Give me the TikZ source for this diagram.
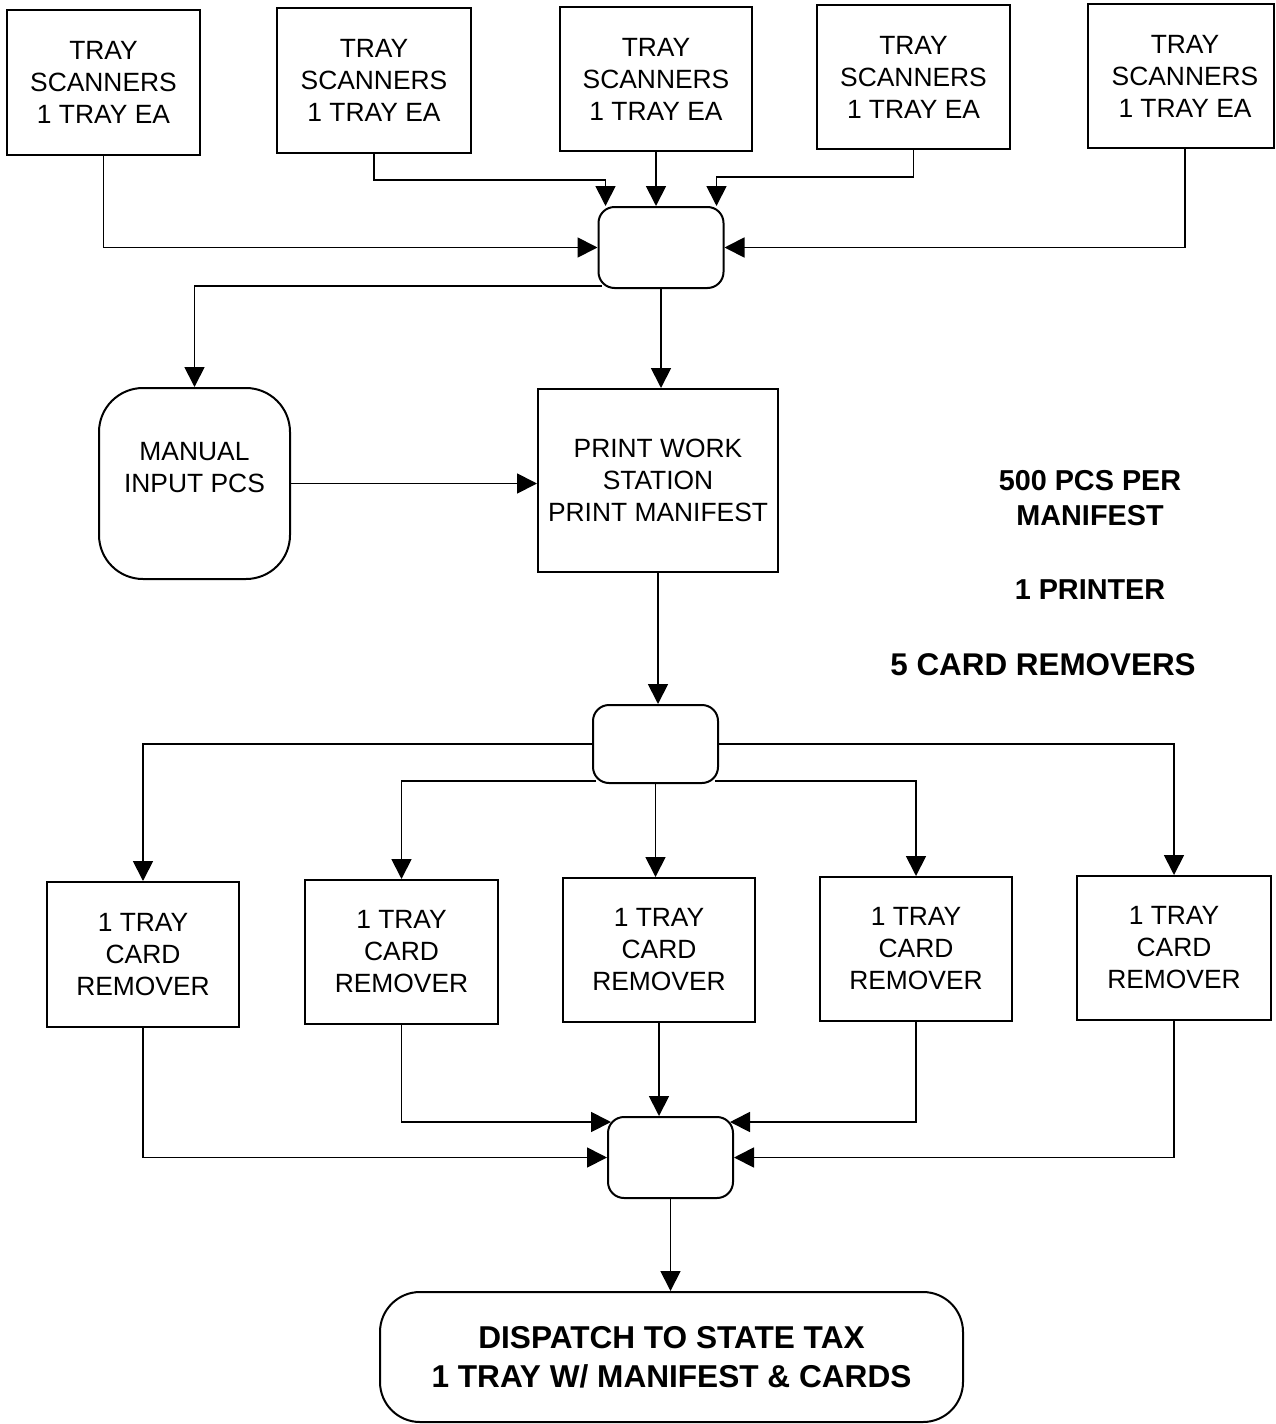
\documentclass[tikz,border=0pt]{standalone}
\usepackage{fontspec}
\setmainfont{Liberation Sans}
\usetikzlibrary{arrows.meta}
\begin{document}
\begin{tikzpicture}[x=0.5pt,y=-0.5pt,
 box/.style={draw,line width=1pt,align=center,inner sep=0pt,font=\fontsize{13.2}{16}\selectfont},
 mrg/.style={draw,line width=1pt,rounded corners=8pt,minimum width=62.5pt,minimum height=40pt,inner sep=0pt},
 arr/.style={line width=0.9pt,-{Triangle[length=10pt,width=10pt]}},
 note/.style={align=center,font=\bfseries\fontsize{14.4}{17.5}\selectfont}]
\useasboundingbox (0,0) rectangle (1275,1424);
% top scanners
\node[box,minimum width=96.5pt,minimum height=72.5pt] (T1) at (103.5,82.5) {TRAY\\SCANNERS\\1 TRAY EA};
\node[box,minimum width=97pt,minimum height=72.5pt] (T2) at (374,80.5) {TRAY\\SCANNERS\\1 TRAY EA};
\node[box,minimum width=96pt,minimum height=72pt] (T3) at (656,79) {TRAY\\SCANNERS\\1 TRAY EA};
\node[box,minimum width=96.5pt,minimum height=72pt] (T4) at (913.5,77) {TRAY\\SCANNERS\\1 TRAY EA};
\node[box,minimum width=93pt,minimum height=72pt] (T5) at (1181,76) {\hspace*{4pt}TRAY\\\hspace*{4pt}SCANNERS\\\hspace*{4pt}1 TRAY EA};
\coordinate (T5b) at (1185,148);
% merge 1
\node[mrg,minimum height=40.5pt] (M1) at (661,247.5) {};
% manual and print
\node[box,rounded corners=22pt,minimum width=95.5pt,minimum height=95.5pt] (MAN) at (194.5,483.5) {MANUAL\\INPUT PCS\\\phantom{X}};
\node[box,minimum width=120pt,minimum height=91.5pt] (PW) at (658,480.5) {PRINT WORK\\STATION\\PRINT MANIFEST};
% merge 2
\node[mrg,minimum height=39pt] (M2) at (655.5,744) {};
% removers
\node[box,minimum width=96pt,minimum height=72.5pt] (R1) at (143,954.5) {1 TRAY\\CARD\\REMOVER};
\node[box,minimum width=96.5pt,minimum height=72pt] (R2) at (401.5,952) {1 TRAY\\CARD\\REMOVER};
\node[box,minimum width=96pt,minimum height=72pt] (R3) at (659,950) {1 TRAY\\CARD\\REMOVER};
\node[box,minimum width=96pt,minimum height=72pt] (R4) at (916,949) {1 TRAY\\CARD\\REMOVER};
\node[box,minimum width=97pt,minimum height=72pt] (R5) at (1174,948) {1 TRAY\\CARD\\REMOVER};
% merge 3
\node[mrg,minimum height=40.5pt] (M3) at (670.5,1157.5) {};
% dispatch
\node[box,rounded corners=20pt,minimum width=291.5pt,minimum height=65pt,font=\bfseries\fontsize{15.8}{19.5}\selectfont] (DIS) at (671.5,1357) {DISPATCH TO STATE TAX\\1 TRAY W/ MANIFEST \& CARDS};
% notes
\node[note] (N1) at (1090,498) {500 PCS PER\\MANIFEST};
\node[note] (N2) at (1090,590) {1 PRINTER};
\node[note,font=\bfseries\fontsize{15.7}{18}\selectfont] (N3) at (1043,665) {5 CARD REMOVERS};
% connectors top
\draw[arr] (T1.south) |- (M1.west);
\draw[arr] (T2.south) -- (T2.south |- 0,180) -| ([xshift=4pt]M1.north west);
\draw[arr] (T3.south) -- (T3.south |- M1.north);
\draw[arr] (T4.south) -- (T4.south |- 0,177) -| ([xshift=-4pt]M1.north east);
\draw[arr] (T5b) |- (M1.east);
% from merge 1
\draw[arr] ([xshift=2pt,yshift=1.5pt]M1.south west) -| (MAN.north);
\draw[arr] (M1.south) -- (M1.south |- PW.north);
\draw[arr] (MAN.east) -- (MAN.east -| PW.west);
\draw[arr] (PW.south) -- (PW.south |- M2.north);
% from merge 2
\draw[arr] (M2.west) -| (R1.north);
\draw[arr] (M2.east) -| (R5.north);
\draw[arr] ([xshift=2pt,yshift=1.5pt]M2.south west) -| (R2.north);
\draw[arr] ([xshift=-2pt,yshift=1.5pt]M2.south east) -| (R4.north);
\draw[arr] (M2.south) -- (M2.south |- R3.north);
% into merge 3
\draw[arr] (R1.south) |- (M3.west);
\draw[arr] (R2.south) |- ([xshift=2pt,yshift=-3pt]M3.north west);
\draw[arr] (R3.south) -- (R3.south |- M3.north);
\draw[arr] (R4.south) |- ([xshift=-2pt,yshift=-3pt]M3.north east);
\draw[arr] (R5.south) |- (M3.east);
\draw[arr] (M3.south) -- (M3.south |- DIS.north);
\end{tikzpicture}
\end{document}
